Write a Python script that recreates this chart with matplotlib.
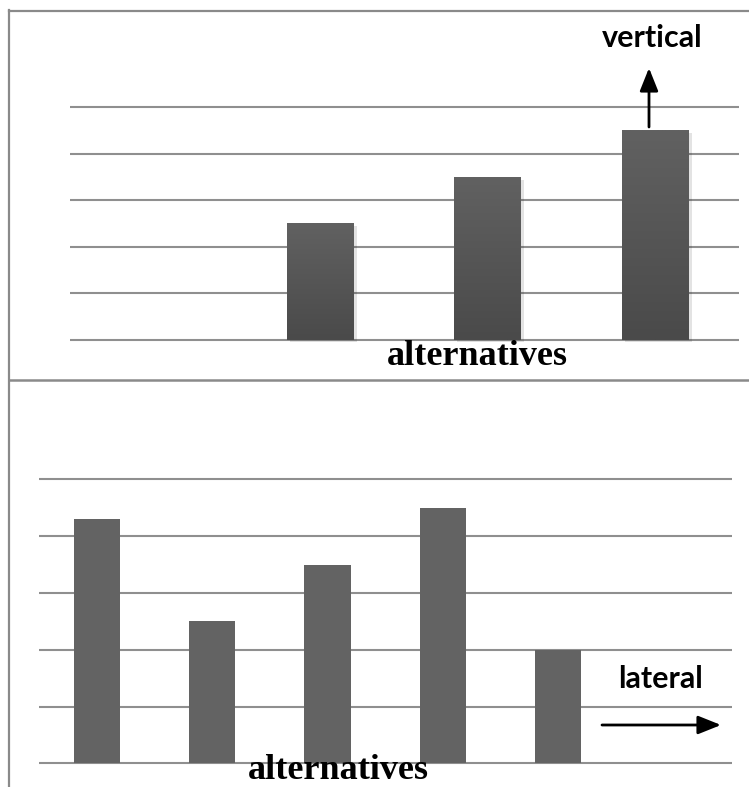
import matplotlib.pyplot as plt
import matplotlib.patheffects as pe
import numpy as np
from matplotlib.colors import LinearSegmentedColormap
from matplotlib.lines import Line2D
from matplotlib.patches import FancyArrowPatch

W, H = 749, 787

# top chart: "vertical" growth (first slot empty)
top_values = [0, 2.5, 3.5, 4.5]
# bottom chart: "lateral" spread (last slot empty)
bottom_values = [4.3, 2.5, 3.5, 4.5, 2.0, 0]
grid_ticks = [0, 1, 2, 3, 4, 5]

GRID = "#8f8f8f"
FRAME = "#8a8a8a"
BAR = "#636363"


def box(x0, y0, x1, y1):
    # pixel box (top-left origin) -> figure fraction rect
    return [x0 / W, 1 - y1 / H, (x1 - x0) / W, (y1 - y0) / H]


def fx(x):
    return x / W


def fy(y):
    return 1 - y / H


def setup(ax, n):
    ax.set_xlim(-0.5, n - 0.5)
    ax.set_ylim(-0.1, 5.1)
    ax.set_yticks(grid_ticks)
    ax.set_xticks([])
    ax.tick_params(left=False, labelleft=False)
    ax.grid(axis="y", color=GRID, linewidth=1.5)
    ax.set_axisbelow(True)
    for s in ax.spines.values():
        s.set_visible(False)
    ax.patch.set_alpha(0)


fig = plt.figure(figsize=(W / 100, H / 100), dpi=100)

# frame lines
fig.add_artist(Line2D([fx(9), fx(W)], [fy(10.8), fy(10.8)], color=FRAME, lw=1.6))
fig.add_artist(Line2D([fx(9), fx(9)], [fy(10), fy(H)], color=FRAME, lw=1.6))
fig.add_artist(Line2D([fx(9), fx(W)], [fy(380.5), fy(380.5)], color=FRAME, lw=1.8))

# top panel
ax1 = fig.add_axes(box(69.5, 107 - 4.65, 739, 339.7 + 4.65))
setup(ax1, len(top_values))
bars = ax1.bar(range(len(top_values)), top_values, width=0.4, color="#555555",
               path_effects=[pe.SimplePatchShadow(offset=(2, -2), alpha=0.12), pe.Normal()])
grad = np.linspace(0, 1, 100).reshape(-1, 1)
cmap = LinearSegmentedColormap.from_list("g", ["#4a4a4a", "#616161"])
for b in bars:
    if b.get_height() <= 0:
        continue
    x0, w, h = b.get_x(), b.get_width(), b.get_height()
    im = ax1.imshow(grad, extent=(x0, x0 + w, 0, h), origin="lower", aspect="auto",
                    cmap=cmap, zorder=3)
    im.set_clip_path(b)
ax1.set_xlim(-0.5, len(top_values) - 0.5)
ax1.set_ylim(-0.1, 5.1)

# bottom panel
ax2 = fig.add_axes(box(39, 479.3 - 5.68, 731.5, 763.3 + 5.68))
setup(ax2, len(bottom_values))
ax2.bar(range(len(bottom_values)), bottom_values, width=0.4, color=BAR)

# labels
fig.text(fx(477), fy(365), "alternatives", family="Liberation Serif", weight="bold",
         fontsize=26, ha="center", va="baseline")
fig.text(fx(338.5), fy(779), "alternatives", family="Liberation Serif", weight="bold",
         fontsize=26, ha="center", va="baseline")
fig.text(fx(652), fy(46.7), "vertical", family="Lato", weight="bold",
         fontsize=22, ha="center", va="baseline")
fig.text(fx(661), fy(687.7), "lateral", family="Lato", weight="bold",
         fontsize=22, ha="center", va="baseline")

# arrows
arrow = dict(arrowstyle="-|>,head_length=1.0,head_width=0.4", color="black", lw=2,
             shrinkA=0, shrinkB=0)
fig.add_artist(FancyArrowPatch((fx(649), fy(127)), (fx(649), fy(68)),
                               transform=fig.transFigure, mutation_scale=14, **arrow))
fig.add_artist(FancyArrowPatch((fx(602), fy(725)), (fx(721), fy(725)),
                               transform=fig.transFigure, mutation_scale=14, **arrow))

fig.savefig("out.png", dpi=100)
